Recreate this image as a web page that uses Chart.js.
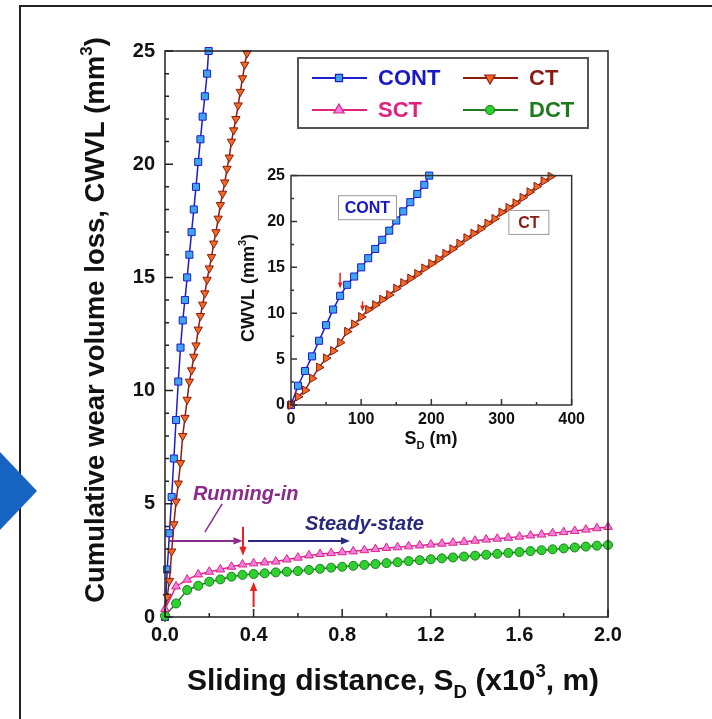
<!DOCTYPE html>
<html>
<head>
<meta charset="utf-8">
<script src="https://cdn.jsdelivr.net/npm/chart.js@4.4.1/dist/chart.umd.min.js"></script>
<style>
  html, body { margin: 0; padding: 0; background: #fff; }
  #wrap { position: relative; width: 712px; height: 719px; overflow: hidden; background: #fff; }
  #frame { position: absolute; left: 19px; top: 5px; width: 720px; height: 730px; border-left: 2px solid #222; border-top: 2px solid #222; }
  #pointer { position: absolute; left: 0; top: 452px; width: 37px; height: 78px; background: #1663c2; clip-path: polygon(0 0, 100% 50%, 0 100%); }
  canvas { position: absolute; }
  #mainChart { left: 0; top: 0; }
  #insetChart { left: 230px; top: 160px; }
</style>
</head>
<body>
<div id="wrap">
  <div id="frame"></div>
  <canvas id="mainChart" width="712" height="719"></canvas>
  <canvas id="insetChart" width="360" height="300"></canvas>
  <div id="pointer"></div>
</div>
<script>
// CONT and CT runs, sliding distance in m
const contDist = [0, 10, 20, 30, 40, 50, 60, 70, 80, 90, 100, 110, 120, 130, 140, 150, 160, 170, 180, 190, 197];
const contCwvl = [0, 2.1, 3.7, 5.3, 7.0, 8.7, 10.4, 11.9, 13.1, 14.0, 15.0, 16.0, 17.0, 18.0, 19.0, 20.1, 21.1, 22.1, 23.0, 24.0, 25.0];
const ctDist = [0, 10, 20, 30, 40, 50, 60, 70, 80, 90, 100, 110, 120, 130, 140, 150, 160, 170, 180, 190,
  200, 210, 220, 230, 240, 250, 260, 270, 280, 290, 300, 310, 320, 330, 340, 350, 360, 370];
const ctCwvl = [0, 0.9, 1.6, 2.9, 4.1, 5.1, 5.9, 6.8, 8.0, 8.8, 9.6, 10.4, 10.9, 11.5, 12.0, 12.7, 13.3, 13.8, 14.3, 14.9,
  15.4, 15.9, 16.5, 17.0, 17.6, 18.2, 18.7, 19.2, 19.8, 20.3, 21.0, 21.5, 22.0, 22.6, 23.2, 23.8, 24.4, 24.9];

// SCT and DCT runs, sliding distance in x10^3 m
const longDist = [0, 0.05, 0.1, 0.15, 0.2, 0.25, 0.3, 0.35, 0.4, 0.45, 0.5, 0.55, 0.6, 0.65, 0.7, 0.75, 0.8, 0.85, 0.9, 0.95,
  1.0, 1.05, 1.1, 1.15, 1.2, 1.25, 1.3, 1.35, 1.4, 1.45, 1.5, 1.55, 1.6, 1.65, 1.7, 1.75, 1.8, 1.85, 1.9, 1.95, 2.0];
const sctCwvl = [0.35, 1.35, 1.65, 1.88, 2.0, 2.1, 2.22, 2.32, 2.37, 2.41, 2.45, 2.54, 2.62, 2.72, 2.78, 2.82, 2.86, 2.9, 2.95, 3.0,
  3.05, 3.08, 3.12, 3.16, 3.2, 3.24, 3.28, 3.32, 3.37, 3.42, 3.46, 3.5, 3.55, 3.6, 3.64, 3.7, 3.75, 3.8, 3.86, 3.92, 3.98];
const dctCwvl = [0.05, 0.6, 1.19, 1.38, 1.56, 1.66, 1.78, 1.86, 1.9, 1.93, 1.97, 2.0, 2.03, 2.08, 2.13, 2.18, 2.22, 2.26, 2.3, 2.34,
  2.38, 2.42, 2.47, 2.51, 2.55, 2.59, 2.63, 2.67, 2.71, 2.75, 2.79, 2.83, 2.87, 2.91, 2.95, 2.99, 3.03, 3.07, 3.11, 3.15, 3.18];

const mainXTicks = [0, 0.4, 0.8, 1.2, 1.6, 2.0];
const mainYTicks = [0, 5, 10, 15, 20, 25];
const insetXTicks = [0, 100, 200, 300, 400];
const insetYTicks = [0, 5, 10, 15, 20, 25];

const colors = {
  cont: { line: '#1c1cd0', fill: '#3fa4ee', text: '#1717c8' },
  ct: { line: '#8e1b12', fill: '#f2691f', text: '#8a1a14' },
  sct: { line: '#e0247e', fill: '#f07ce6', text: '#e0207f' },
  dct: { line: '#1d7d1d', fill: '#2fd12f', text: '#1d7a1d' }
};
const FONT = '"Liberation Sans", Arial, sans-serif';

function toPoints(xs, ys, k) {
  return xs.map((x, i) => ({ x: x * k, y: ys[i] }));
}

function dataset(label, pts, c, style, radius, rotation) {
  return {
    label: label, data: pts, showLine: true, tension: 0,
    borderColor: c.line, borderWidth: 1.5, backgroundColor: c.fill,
    pointStyle: style, pointRadius: radius, pointRotation: rotation || 0,
    pointBackgroundColor: c.fill, pointBorderColor: c.line, pointBorderWidth: 1,
    clip: 6
  };
}

// text with sub / superscript parts
function drawRich(ctx, parts, x, y, size, weight) {
  const small = size * 0.62;
  let w = 0;
  parts.forEach(p => {
    ctx.font = weight + ' ' + (p.sub || p.sup ? small : size) + 'px ' + FONT;
    p.w = ctx.measureText(p.t).width;
    w += p.w;
  });
  let cx = x - w / 2;
  ctx.textAlign = 'left';
  ctx.textBaseline = 'alphabetic';
  parts.forEach(p => {
    ctx.font = weight + ' ' + (p.sub || p.sup ? small : size) + 'px ' + FONT;
    let dy = 0;
    if (p.sub) dy = size * 0.25;
    if (p.sup) dy = -size * 0.45;
    ctx.fillText(p.t, cx, y + dy);
    cx += p.w;
  });
}

function drawArrow(ctx, x1, y1, x2, y2, color, lw, head) {
  const a = Math.atan2(y2 - y1, x2 - x1);
  ctx.save();
  ctx.strokeStyle = color;
  ctx.fillStyle = color;
  ctx.lineWidth = lw;
  ctx.beginPath();
  ctx.moveTo(x1, y1);
  ctx.lineTo(x2 - Math.cos(a) * head * 0.8, y2 - Math.sin(a) * head * 0.8);
  ctx.stroke();
  ctx.beginPath();
  ctx.moveTo(x2, y2);
  ctx.lineTo(x2 - head * Math.cos(a) + head * 0.4 * Math.sin(a), y2 - head * Math.sin(a) - head * 0.4 * Math.cos(a));
  ctx.lineTo(x2 - head * Math.cos(a) - head * 0.4 * Math.sin(a), y2 - head * Math.sin(a) + head * 0.4 * Math.cos(a));
  ctx.closePath();
  ctx.fill();
  ctx.restore();
}

// plot box with inward ticks
function drawBox(chart, xMinorStep, yMinorStep, majorLen, minorLen, color) {
  const ctx = chart.ctx;
  const a = chart.chartArea;
  const xs = chart.scales.x, ys = chart.scales.y;
  ctx.save();
  ctx.strokeStyle = color;
  ctx.lineWidth = 1.5;
  ctx.strokeRect(a.left, a.top, a.right - a.left, a.bottom - a.top);
  ctx.beginPath();
  for (let v = xs.min; v <= xs.max + 1e-9; v += xMinorStep) {
    const px = xs.getPixelForValue(v);
    const major = xs.ticks.some(t => Math.abs(t.value - v) < 1e-6);
    ctx.moveTo(px, a.bottom);
    ctx.lineTo(px, a.bottom - (major ? majorLen : minorLen));
  }
  for (let v = ys.min; v <= ys.max + 1e-9; v += yMinorStep) {
    const py = ys.getPixelForValue(v);
    const major = ys.ticks.some(t => Math.abs(t.value - v) < 1e-6);
    ctx.moveTo(a.left, py);
    ctx.lineTo(a.left + (major ? majorLen : minorLen), py);
  }
  ctx.stroke();
  ctx.restore();
}

const mainDecor = {
  id: 'mainDecor',
  afterDatasetsDraw(chart) {
    const ctx = chart.ctx;
    const xs = chart.scales.x, ys = chart.scales.y;
    const X = v => xs.getPixelForValue(v), Y = v => ys.getPixelForValue(v);
    drawBox(chart, 0.2, 1, 8, 4, '#222');

    // annotations
    ctx.save();
    ctx.strokeStyle = '#8b2a8b';
    ctx.lineWidth = 1.5;
    ctx.beginPath();
    ctx.moveTo(X(0.258), Y(5.0));
    ctx.lineTo(X(0.18), Y(3.75));
    ctx.stroke();
    ctx.restore();
    drawArrow(ctx, X(0.02), Y(3.36), X(0.35), Y(3.36), '#8b2a8b', 2, 9);
    drawArrow(ctx, X(0.375), Y(3.36), X(0.835), Y(3.36), '#27287e', 2, 9);
    drawArrow(ctx, X(0.352), Y(3.98), X(0.352), Y(2.7), '#e82020', 2, 9);
    drawArrow(ctx, X(0.4), Y(0.44), X(0.4), Y(1.55), '#e82020', 2, 9);
    ctx.save();
    ctx.font = 'italic bold 20px ' + FONT;
    ctx.textAlign = 'left';
    ctx.textBaseline = 'alphabetic';
    ctx.fillStyle = '#8b2a8b';
    ctx.fillText('Running-in', X(0.126), Y(5.17));
    ctx.fillStyle = '#27287e';
    ctx.fillText('Steady-state', X(0.632), Y(3.84));
    ctx.restore();

    // legend
    ctx.save();
    ctx.strokeStyle = '#555';
    ctx.lineWidth = 2;
    ctx.strokeRect(298, 58, 290, 70);
    const items = [
      { name: 'CONT', c: colors.cont, style: 'rect', r: 5, rot: 0, x: 312, y: 78 },
      { name: 'CT', c: colors.ct, style: 'triangle', r: 6, rot: 180, x: 463, y: 78 },
      { name: 'SCT', c: colors.sct, style: 'triangle', r: 6, rot: 0, x: 312, y: 110 },
      { name: 'DCT', c: colors.dct, style: 'circle', r: 4.5, rot: 0, x: 463, y: 110 }
    ];
    items.forEach(it => {
      ctx.strokeStyle = it.c.line;
      ctx.lineWidth = 2;
      ctx.beginPath();
      ctx.moveTo(it.x, it.y);
      ctx.lineTo(it.x + 55, it.y);
      ctx.stroke();
      ctx.fillStyle = it.c.fill;
      ctx.lineWidth = 1.2;
      Chart.helpers.drawPoint(ctx, { pointStyle: it.style, radius: it.r, rotation: it.rot, borderWidth: 1.2 }, it.x + 27, it.y);
      ctx.fillStyle = it.c.text;
      ctx.font = 'bold 22px ' + FONT;
      ctx.textAlign = 'left';
      ctx.textBaseline = 'middle';
      ctx.fillText(it.name, it.x + 66, it.y + 1);
    });
    ctx.restore();

    // axis titles
    ctx.save();
    ctx.fillStyle = '#111';
    drawRich(ctx, [{ t: 'Sliding distance, S' }, { t: 'D', sub: true }, { t: ' (x10' }, { t: '3', sup: true }, { t: ', m)' }],
      393, 690, 30, 'bold');
    ctx.translate(104, 320);
    ctx.rotate(-Math.PI / 2);
    drawRich(ctx, [{ t: 'Cumulative wear volume loss, CWVL (mm' }, { t: '3', sup: true }, { t: ')' }], 0, 0, 27.5, 'bold');
    ctx.restore();
  }
};

const insetDecor = {
  id: 'insetDecor',
  afterDatasetsDraw(chart) {
    const ctx = chart.ctx;
    const xs = chart.scales.x, ys = chart.scales.y;
    const X = v => xs.getPixelForValue(v), Y = v => ys.getPixelForValue(v);
    drawBox(chart, 50, 2.5, 6, 3, '#333');

    drawArrow(ctx, X(70), Y(14.4), X(70), Y(12.7), '#e82020', 1.5, 6);
    drawArrow(ctx, X(102), Y(11.3), X(102), Y(10.2), '#e82020', 1.5, 6);

    ctx.save();
    ctx.font = 'bold 16px ' + FONT;
    ctx.textAlign = 'center';
    ctx.textBaseline = 'middle';
    [{ t: 'CONT', c: colors.cont.text, x: 109, y: 21.5, w: 58 }, { t: 'CT', c: colors.ct.text, x: 339, y: 19.9, w: 40 }].forEach(b => {
      ctx.fillStyle = '#fff';
      ctx.fillRect(X(b.x) - b.w / 2, Y(b.y) - 12, b.w, 24);
      ctx.strokeStyle = '#999';
      ctx.lineWidth = 1;
      ctx.strokeRect(X(b.x) - b.w / 2, Y(b.y) - 12, b.w, 24);
      ctx.fillStyle = b.c;
      ctx.fillText(b.t, X(b.x), Y(b.y) + 1);
    });
    ctx.restore();

    ctx.save();
    ctx.fillStyle = '#111';
    drawRich(ctx, [{ t: 'S' }, { t: 'D', sub: true }, { t: ' (m)' }], 201, 284, 18, 'bold');
    ctx.translate(24, 128);
    ctx.rotate(-Math.PI / 2);
    drawRich(ctx, [{ t: 'CWVL (mm' }, { t: '3', sup: true }, { t: ')' }], 0, 0, 18, 'bold');
    ctx.restore();
  }
};

function axis(min, max, ticks, fmt, size, pad, fixed, isX) {
  return {
    type: 'linear', min: min, max: max,
    grid: { display: false, drawTicks: false },
    border: { display: false },
    afterBuildTicks: s => { s.ticks = ticks.map(v => ({ value: v })); },
    afterFit: s => { if (isX) s.height = fixed; else s.width = fixed; },
    ticks: {
      autoSkip: false, maxRotation: 0, padding: pad, color: '#111',
      font: { family: FONT, size: size, weight: 'bold' },
      callback: fmt
    }
  };
}

new Chart(document.getElementById('mainChart'), {
  type: 'scatter',
  data: {
    datasets: [
      dataset('SCT', toPoints(longDist, sctCwvl, 1), colors.sct, 'triangle', 5, 0),
      dataset('DCT', toPoints(longDist, dctCwvl, 1), colors.dct, 'circle', 4.5, 0),
      dataset('CT', toPoints(ctDist, ctCwvl, 0.001), colors.ct, 'triangle', 4.8, 180),
      dataset('CONT', toPoints(contDist, contCwvl, 0.001), colors.cont, 'rect', 5, 0)
    ]
  },
  options: {
    responsive: false, animation: false,
    layout: { padding: { top: 51, right: 104, left: 0, bottom: 0 } },
    plugins: { legend: { display: false }, tooltip: { enabled: false } },
    scales: {
      x: axis(0, 2, mainXTicks, v => v.toFixed(1), 20, 6, 102, true),
      y: axis(0, 25, mainYTicks, v => String(v), 20, 10, 165, false)
    }
  },
  plugins: [mainDecor]
});

new Chart(document.getElementById('insetChart'), {
  type: 'scatter',
  data: {
    datasets: [
      dataset('CT', toPoints(ctDist, ctCwvl, 1), colors.ct, 'triangle', 5, 90),
      dataset('CONT', toPoints(contDist, contCwvl, 1), colors.cont, 'rect', 5, 0)
    ]
  },
  options: {
    responsive: false, animation: false,
    layout: { padding: { top: 13, right: 17, left: 0, bottom: 0 } },
    plugins: { legend: { display: false }, tooltip: { enabled: false } },
    scales: {
      x: axis(0, 400, insetXTicks, v => String(v), 16, 5, 55, true),
      y: axis(0, 25, insetYTicks, v => String(v), 16, 6, 61, false)
    }
  },
  plugins: [insetDecor]
});
</script>
</body>
</html>
